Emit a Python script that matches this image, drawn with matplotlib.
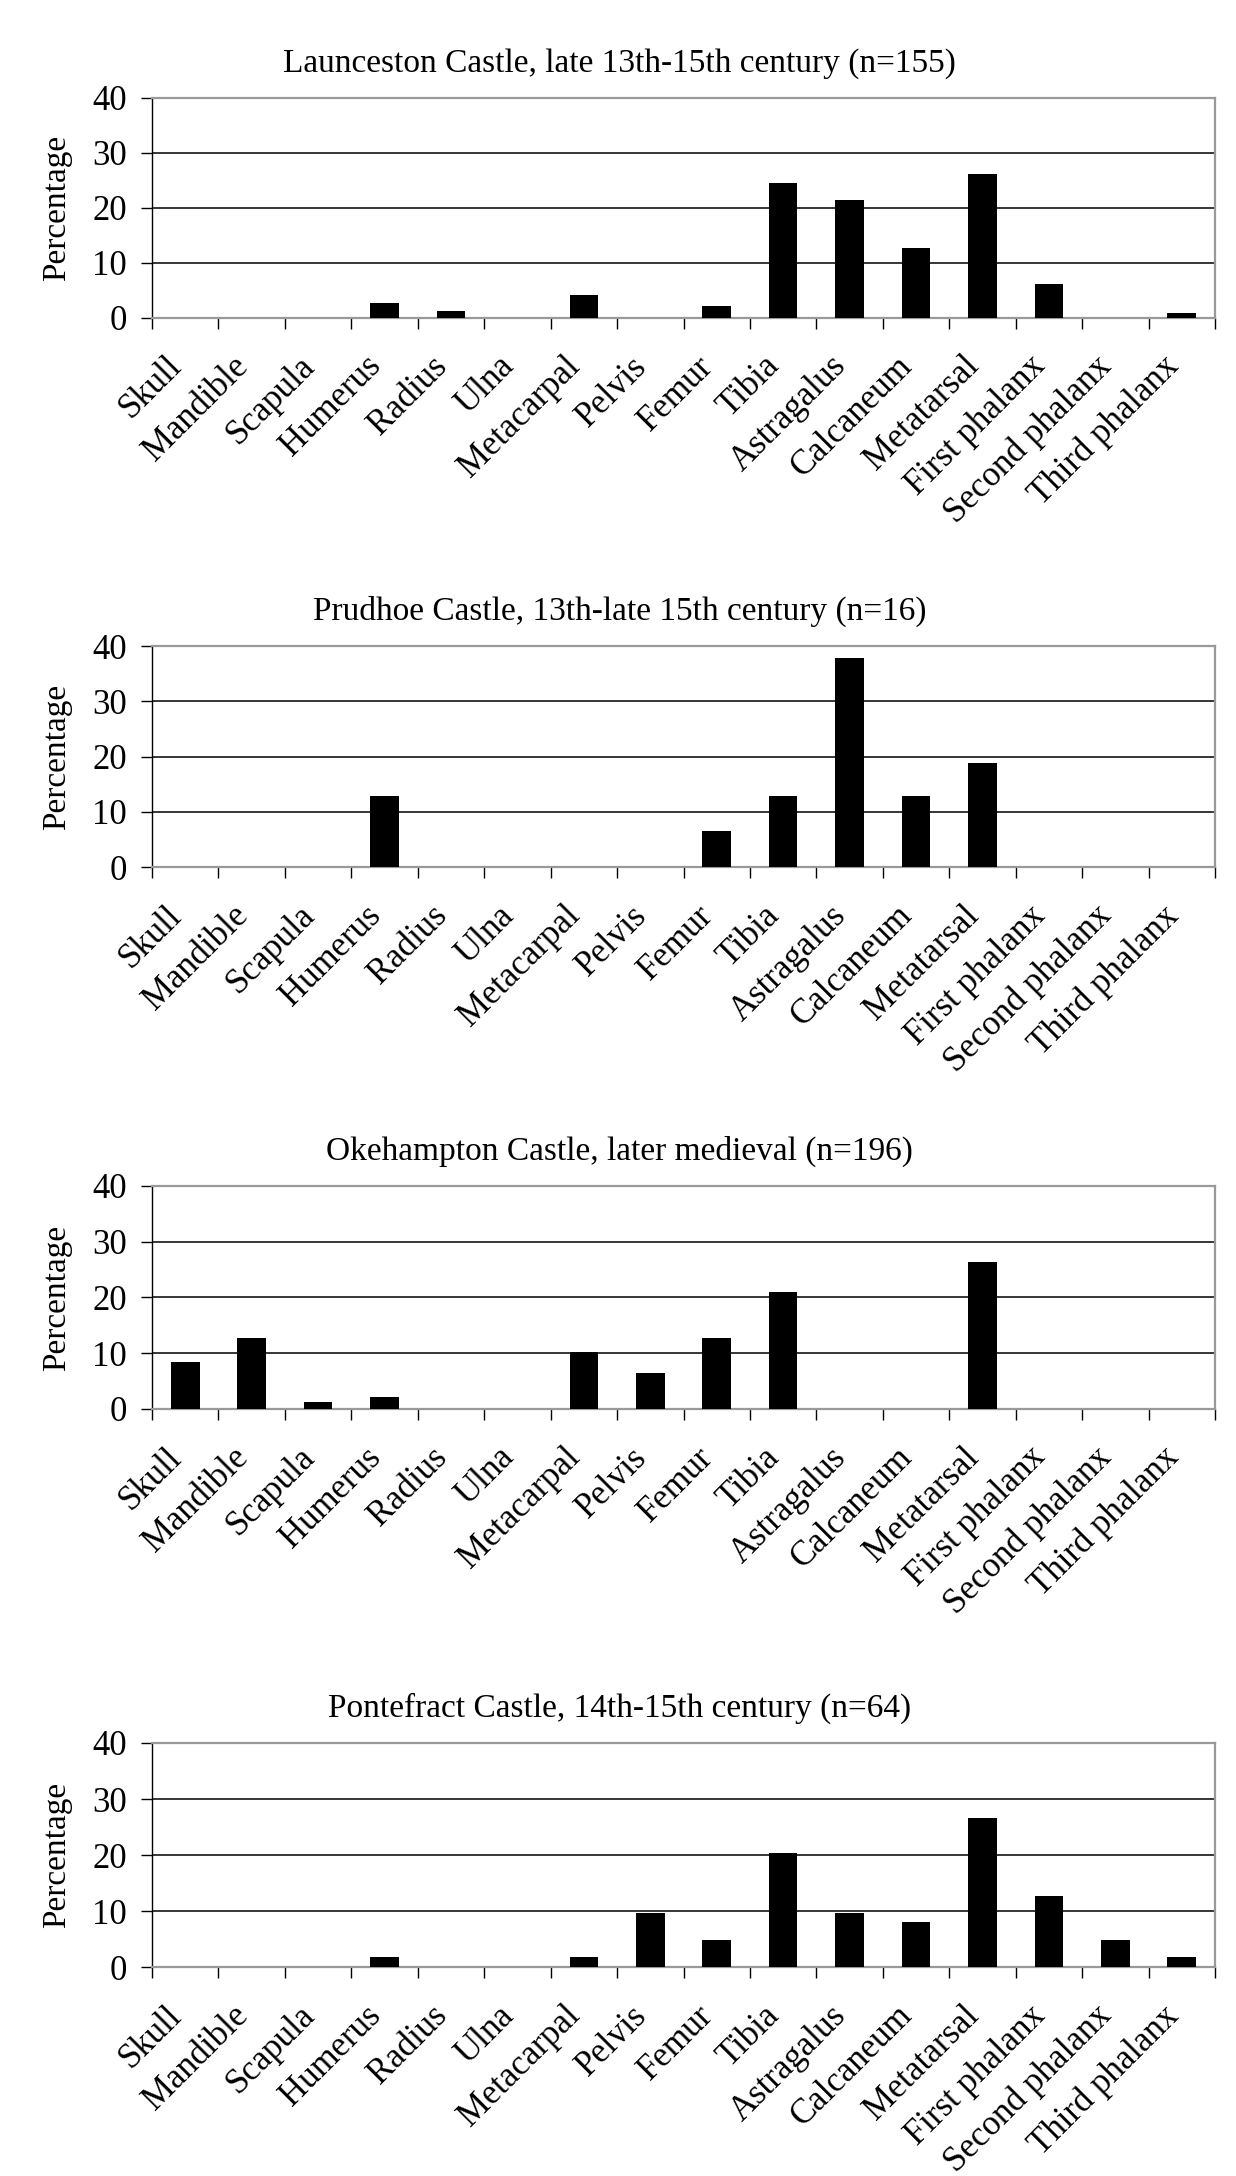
import matplotlib
matplotlib.use("Agg")
import matplotlib.pyplot as plt
import matplotlib.transforms as mtransforms
import numpy as np

plt.rcParams['font.family'] = ['Liberation Serif', 'DejaVu Serif']

bones = ['Skull', 'Mandible', 'Scapula', 'Humerus', 'Radius', 'Ulna',
         'Metacarpal', 'Pelvis', 'Femur', 'Tibia', 'Astragalus', 'Calcaneum',
         'Metatarsal', 'First phalanx', 'Second phalanx', 'Third phalanx']

titles = ['Launceston Castle, late 13th-15th century (n=155)',
          'Prudhoe Castle, 13th-late 15th century (n=16)',
          'Okehampton Castle, later medieval (n=196)',
          'Pontefract Castle, 14th-15th century (n=64)']

launceston = [0, 0, 0, 2.6, 1.3, 0, 4.2, 0, 2.2, 24.5, 21.4, 12.6, 26.1, 6.2, 0, 0.9]
prudhoe = [0, 0, 0, 12.9, 0, 0, 0, 0, 6.5, 12.9, 37.8, 12.9, 18.9, 0, 0, 0]
okehampton = [8.4, 12.7, 1.2, 2.1, 0, 0, 10.3, 6.4, 12.7, 20.9, 0, 0, 26.3, 0, 0, 0]
pontefract = [0, 0, 0, 1.8, 0, 0, 1.8, 9.6, 4.9, 20.4, 9.6, 8.0, 26.6, 12.7, 4.9, 1.8]

series = [launceston, prudhoe, okehampton, pontefract]

# panel boxes [left, bottom, width, height] in figure fraction
boxes = [[0.123, 0.854, 0.860, 0.101],
         [0.123, 0.6015, 0.860, 0.1015],
         [0.123, 0.3525, 0.860, 0.1025],
         [0.123, 0.096, 0.860, 0.103]]

fig = plt.figure(figsize=(12.36, 21.76), dpi=100)
x = np.arange(len(bones))
shift = mtransforms.ScaledTranslation(-20 / 100, 0, fig.dpi_scale_trans)

for vals, title, box in zip(series, titles, boxes):
    ax = fig.add_axes(box)
    ax.bar(x, vals, width=0.43, color='black', zorder=3)
    ax.set_xlim(-0.5, len(bones) - 0.5)
    ax.set_ylim(0, 40)
    ax.set_yticks([0, 10, 20, 30, 40])
    for y in [10, 20, 30]:
        ax.axhline(y, color='black', lw=1.1, zorder=1)
    ax.spines['left'].set_color('black')
    ax.spines['left'].set_linewidth(1.0)
    for s in ['top', 'right', 'bottom']:
        ax.spines[s].set_color('#999999')
        ax.spines[s].set_linewidth(1.6)
    ax.set_xticks(x)
    ax.set_xticklabels(bones, rotation=45, ha='right', rotation_mode='anchor',
                       fontsize=25)
    ax.tick_params(axis='x', length=0, pad=23)
    for lab in ax.get_xticklabels():
        lab.set_transform(lab.get_transform() + shift)
    ax.set_xticks(np.arange(-0.5, len(bones)), minor=True)
    ax.tick_params(axis='x', which='minor', length=8, width=1.0, color='black')
    ax.tick_params(axis='y', length=8, width=1.0, labelsize=25, pad=10)
    ax.set_ylabel('Percentage', fontsize=24)
    ax.yaxis.set_label_coords(-0.075, 0.5)
    ax.set_title(title, fontsize=24, pad=19, x=0.44)

fig.savefig('out.png', dpi=100, facecolor='white')
